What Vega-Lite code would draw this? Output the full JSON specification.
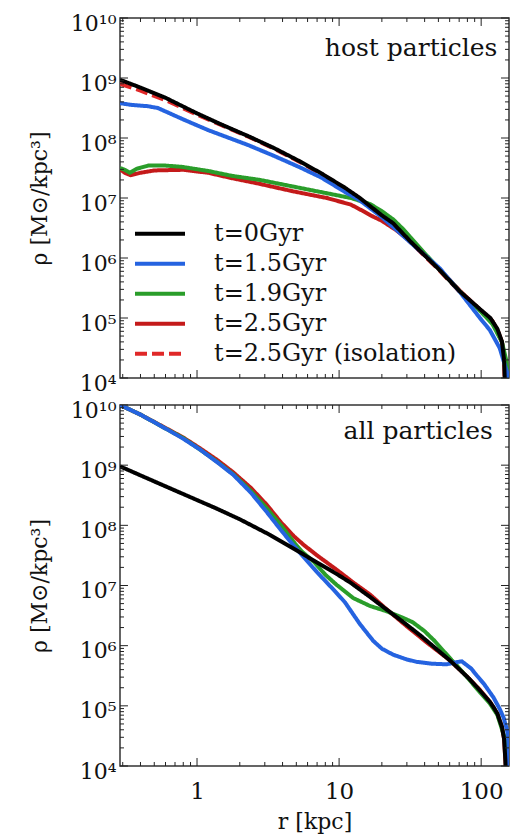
{
"$schema": "https://vega.github.io/schema/vega-lite/v6.json",
"padding": {"left": 27, "top": 11, "right": 5, "bottom": 5},
"bounds": "flush",
"spacing": 27,
"config": {
  "view": {"stroke": "#333", "strokeWidth": 1.5},
  "font": "DejaVu Serif",
  "axis": {"domain": false, "ticks": false, "tickSize": 0, "grid": false, "labelFont": "DejaVu Serif", "labelFontSize": 22, "labelColor": "#111", "titleFont": "DejaVu Serif", "titleFontSize": 22, "titleFontWeight": "normal", "titleColor": "#111"},
  "rule": {"color": "#222", "strokeWidth": 1}
},
"resolve": {"legend": {"color": "independent", "strokeDash": "independent"}},
"datasets": {
  "xt": [{"v":0.3,"k":"minor"},{"v":0.4,"k":"minor"},{"v":0.5,"k":"minor"},{"v":0.6,"k":"minor"},{"v":0.7,"k":"minor"},{"v":0.8,"k":"minor"},{"v":0.9,"k":"minor"},{"v":1,"k":"major"},{"v":2,"k":"minor"},{"v":3,"k":"minor"},{"v":4,"k":"minor"},{"v":5,"k":"minor"},{"v":6,"k":"minor"},{"v":7,"k":"minor"},{"v":8,"k":"minor"},{"v":9,"k":"minor"},{"v":10,"k":"major"},{"v":20,"k":"minor"},{"v":30,"k":"minor"},{"v":40,"k":"minor"},{"v":50,"k":"minor"},{"v":60,"k":"minor"},{"v":70,"k":"minor"},{"v":80,"k":"minor"},{"v":90,"k":"minor"},{"v":100,"k":"major"}],
  "yt": [{"v":1e4,"k":"major"},{"v":2e4,"k":"minor"},{"v":3e4,"k":"minor"},{"v":4e4,"k":"minor"},{"v":5e4,"k":"minor"},{"v":6e4,"k":"minor"},{"v":7e4,"k":"minor"},{"v":8e4,"k":"minor"},{"v":9e4,"k":"minor"},{"v":1e5,"k":"major"},{"v":2e5,"k":"minor"},{"v":3e5,"k":"minor"},{"v":4e5,"k":"minor"},{"v":5e5,"k":"minor"},{"v":6e5,"k":"minor"},{"v":7e5,"k":"minor"},{"v":8e5,"k":"minor"},{"v":9e5,"k":"minor"},{"v":1e6,"k":"major"},{"v":2e6,"k":"minor"},{"v":3e6,"k":"minor"},{"v":4e6,"k":"minor"},{"v":5e6,"k":"minor"},{"v":6e6,"k":"minor"},{"v":7e6,"k":"minor"},{"v":8e6,"k":"minor"},{"v":9e6,"k":"minor"},{"v":1e7,"k":"major"},{"v":2e7,"k":"minor"},{"v":3e7,"k":"minor"},{"v":4e7,"k":"minor"},{"v":5e7,"k":"minor"},{"v":6e7,"k":"minor"},{"v":7e7,"k":"minor"},{"v":8e7,"k":"minor"},{"v":9e7,"k":"minor"},{"v":1e8,"k":"major"},{"v":2e8,"k":"minor"},{"v":3e8,"k":"minor"},{"v":4e8,"k":"minor"},{"v":5e8,"k":"minor"},{"v":6e8,"k":"minor"},{"v":7e8,"k":"minor"},{"v":8e8,"k":"minor"},{"v":9e8,"k":"minor"},{"v":1e9,"k":"major"},{"v":2e9,"k":"minor"},{"v":3e9,"k":"minor"},{"v":4e9,"k":"minor"},{"v":5e9,"k":"minor"},{"v":6e9,"k":"minor"},{"v":7e9,"k":"minor"},{"v":8e9,"k":"minor"},{"v":9e9,"k":"minor"},{"v":1e10,"k":"major"}],
  "host": [
    {"s":"t=2.5Gyr (isolation)","r":0.287,"rho":7.94e8},{"s":"t=2.5Gyr (isolation)","r":0.4,"rho":6.17e8},{"s":"t=2.5Gyr (isolation)","r":0.6,"rho":4.27e8},{"s":"t=2.5Gyr (isolation)","r":1.0,"rho":2.45e8},{"s":"t=2.5Gyr (isolation)","r":1.5,"rho":1.62e8},{"s":"t=2.5Gyr (isolation)","r":2.3,"rho":1.05e8},{"s":"t=2.5Gyr (isolation)","r":3.5,"rho":6.61e7},{"s":"t=2.5Gyr (isolation)","r":5.2,"rho":4.07e7},{"s":"t=2.5Gyr (isolation)","r":7.5,"rho":2.51e7},{"s":"t=2.5Gyr (isolation)","r":11,"rho":1.45e7},{"s":"t=2.5Gyr (isolation)","r":14,"rho":9.77e6},{"s":"t=2.5Gyr (isolation)","r":20,"rho":5.01e6},{"s":"t=2.5Gyr (isolation)","r":24,"rho":3.72e6},{"s":"t=2.5Gyr (isolation)","r":31.6,"rho":1.86e6},{"s":"t=2.5Gyr (isolation)","r":50,"rho":6.46e5},{"s":"t=2.5Gyr (isolation)","r":71,"rho":2.69e5},{"s":"t=2.5Gyr (isolation)","r":100,"rho":1.32e5},{"s":"t=2.5Gyr (isolation)","r":116,"rho":9.77e4},{"s":"t=2.5Gyr (isolation)","r":130,"rho":6.46e4},{"s":"t=2.5Gyr (isolation)","r":140,"rho":3.98e4},{"s":"t=2.5Gyr (isolation)","r":145,"rho":2.0e4},{"s":"t=2.5Gyr (isolation)","r":147,"rho":6.31e3},
    {"s":"t=2.5Gyr","r":0.287,"rho":3.02e7},{"s":"t=2.5Gyr","r":0.31,"rho":2.63e7},{"s":"t=2.5Gyr","r":0.34,"rho":2.40e7},{"s":"t=2.5Gyr","r":0.4,"rho":2.63e7},{"s":"t=2.5Gyr","r":0.5,"rho":2.88e7},{"s":"t=2.5Gyr","r":0.8,"rho":2.95e7},{"s":"t=2.5Gyr","r":1.2,"rho":2.63e7},{"s":"t=2.5Gyr","r":1.76,"rho":2.14e7},{"s":"t=2.5Gyr","r":2.7,"rho":1.74e7},{"s":"t=2.5Gyr","r":4.76,"rho":1.29e7},{"s":"t=2.5Gyr","r":8.2,"rho":1.0e7},{"s":"t=2.5Gyr","r":12.1,"rho":7.76e6},{"s":"t=2.5Gyr","r":14.8,"rho":6.03e6},{"s":"t=2.5Gyr","r":17,"rho":5.01e6},{"s":"t=2.5Gyr","r":20,"rho":4.17e6},{"s":"t=2.5Gyr","r":25,"rho":2.95e6},{"s":"t=2.5Gyr","r":31.6,"rho":1.91e6},{"s":"t=2.5Gyr","r":50,"rho":6.76e5},{"s":"t=2.5Gyr","r":71,"rho":2.82e5},{"s":"t=2.5Gyr","r":100,"rho":1.32e5},{"s":"t=2.5Gyr","r":120,"rho":8.91e4},{"s":"t=2.5Gyr","r":140,"rho":3.98e4},{"s":"t=2.5Gyr","r":150,"rho":1.58e4},{"s":"t=2.5Gyr","r":155,"rho":7.94e3},
    {"s":"t=1.9Gyr","r":0.287,"rho":3.16e7},{"s":"t=1.9Gyr","r":0.31,"rho":2.95e7},{"s":"t=1.9Gyr","r":0.336,"rho":2.63e7},{"s":"t=1.9Gyr","r":0.38,"rho":3.09e7},{"s":"t=1.9Gyr","r":0.454,"rho":3.47e7},{"s":"t=1.9Gyr","r":0.6,"rho":3.47e7},{"s":"t=1.9Gyr","r":0.78,"rho":3.31e7},{"s":"t=1.9Gyr","r":1.2,"rho":2.82e7},{"s":"t=1.9Gyr","r":1.76,"rho":2.34e7},{"s":"t=1.9Gyr","r":2.78,"rho":2.0e7},{"s":"t=1.9Gyr","r":4.76,"rho":1.55e7},{"s":"t=1.9Gyr","r":8.2,"rho":1.20e7},{"s":"t=1.9Gyr","r":12.1,"rho":1.0e7},{"s":"t=1.9Gyr","r":16.5,"rho":7.94e6},{"s":"t=1.9Gyr","r":20,"rho":6.03e6},{"s":"t=1.9Gyr","r":24.1,"rho":4.37e6},{"s":"t=1.9Gyr","r":28,"rho":3.09e6},{"s":"t=1.9Gyr","r":31.6,"rho":2.24e6},{"s":"t=1.9Gyr","r":40,"rho":1.20e6},{"s":"t=1.9Gyr","r":51,"rho":6.46e5},{"s":"t=1.9Gyr","r":71,"rho":2.75e5},{"s":"t=1.9Gyr","r":100,"rho":1.26e5},{"s":"t=1.9Gyr","r":120,"rho":7.94e4},{"s":"t=1.9Gyr","r":140,"rho":3.98e4},{"s":"t=1.9Gyr","r":150,"rho":2.0e4},{"s":"t=1.9Gyr","r":155,"rho":1.0e4},{"s":"t=1.9Gyr","r":157,"rho":6.31e3},
    {"s":"t=1.5Gyr","r":0.287,"rho":3.80e8},{"s":"t=1.5Gyr","r":0.35,"rho":3.55e8},{"s":"t=1.5Gyr","r":0.45,"rho":3.39e8},{"s":"t=1.5Gyr","r":0.53,"rho":3.16e8},{"s":"t=1.5Gyr","r":0.8,"rho":2.04e8},{"s":"t=1.5Gyr","r":1.2,"rho":1.35e8},{"s":"t=1.5Gyr","r":2.3,"rho":7.59e7},{"s":"t=1.5Gyr","r":3.5,"rho":5.01e7},{"s":"t=1.5Gyr","r":5.3,"rho":3.24e7},{"s":"t=1.5Gyr","r":7.5,"rho":2.19e7},{"s":"t=1.5Gyr","r":11,"rho":1.26e7},{"s":"t=1.5Gyr","r":14,"rho":9.12e6},{"s":"t=1.5Gyr","r":20,"rho":4.79e6},{"s":"t=1.5Gyr","r":27,"rho":2.57e6},{"s":"t=1.5Gyr","r":35,"rho":1.48e6},{"s":"t=1.5Gyr","r":51,"rho":6.76e5},{"s":"t=1.5Gyr","r":71,"rho":2.69e5},{"s":"t=1.5Gyr","r":98,"rho":1.0e5},{"s":"t=1.5Gyr","r":115,"rho":6.31e4},{"s":"t=1.5Gyr","r":135,"rho":3.16e4},{"s":"t=1.5Gyr","r":152,"rho":1.26e4},{"s":"t=1.5Gyr","r":157,"rho":6.31e3},
    {"s":"t=0Gyr","r":0.287,"rho":9.33e8},{"s":"t=0Gyr","r":0.4,"rho":6.92e8},{"s":"t=0Gyr","r":0.6,"rho":4.68e8},{"s":"t=0Gyr","r":1.0,"rho":2.57e8},{"s":"t=0Gyr","r":1.5,"rho":1.66e8},{"s":"t=0Gyr","r":2.3,"rho":1.07e8},{"s":"t=0Gyr","r":3.5,"rho":6.76e7},{"s":"t=0Gyr","r":5.2,"rho":4.17e7},{"s":"t=0Gyr","r":7.5,"rho":2.57e7},{"s":"t=0Gyr","r":11,"rho":1.48e7},{"s":"t=0Gyr","r":14,"rho":1.0e7},{"s":"t=0Gyr","r":20,"rho":5.13e6},{"s":"t=0Gyr","r":24,"rho":3.80e6},{"s":"t=0Gyr","r":31.6,"rho":1.91e6},{"s":"t=0Gyr","r":50,"rho":6.61e5},{"s":"t=0Gyr","r":71,"rho":2.75e5},{"s":"t=0Gyr","r":100,"rho":1.35e5},{"s":"t=0Gyr","r":116,"rho":1.0e5},{"s":"t=0Gyr","r":130,"rho":6.61e4},{"s":"t=0Gyr","r":140,"rho":4.07e4},{"s":"t=0Gyr","r":145,"rho":2.0e4},{"s":"t=0Gyr","r":146.5,"rho":1.0e4},{"s":"t=0Gyr","r":147,"rho":6.31e3}
  ],
  "all": [
    {"s":"t=2.5Gyr","r":0.287,"rho":1.0e10},{"s":"t=2.5Gyr","r":0.4,"rho":6.92e9},{"s":"t=2.5Gyr","r":0.61,"rho":4.07e9},{"s":"t=2.5Gyr","r":0.8,"rho":2.88e9},{"s":"t=2.5Gyr","r":1.05,"rho":1.91e9},{"s":"t=2.5Gyr","r":1.4,"rho":1.20e9},{"s":"t=2.5Gyr","r":1.8,"rho":7.59e8},{"s":"t=2.5Gyr","r":2.4,"rho":4.17e8},{"s":"t=2.5Gyr","r":3.1,"rho":2.19e8},{"s":"t=2.5Gyr","r":3.9,"rho":1.12e8},{"s":"t=2.5Gyr","r":4.8,"rho":6.61e7},{"s":"t=2.5Gyr","r":5.6,"rho":4.79e7},{"s":"t=2.5Gyr","r":7,"rho":3.16e7},{"s":"t=2.5Gyr","r":8,"rho":2.51e7},{"s":"t=2.5Gyr","r":9.63,"rho":1.82e7},{"s":"t=2.5Gyr","r":12.6,"rho":1.12e7},{"s":"t=2.5Gyr","r":16.5,"rho":7.08e6},{"s":"t=2.5Gyr","r":20.5,"rho":4.47e6},{"s":"t=2.5Gyr","r":30,"rho":2.09e6},{"s":"t=2.5Gyr","r":42,"rho":1.10e6},{"s":"t=2.5Gyr","r":60,"rho":5.75e5},{"s":"t=2.5Gyr","r":80,"rho":3.02e5},{"s":"t=2.5Gyr","r":98.5,"rho":1.82e5},{"s":"t=2.5Gyr","r":115,"rho":1.17e5},{"s":"t=2.5Gyr","r":130,"rho":7.41e4},{"s":"t=2.5Gyr","r":140,"rho":4.47e4},{"s":"t=2.5Gyr","r":145,"rho":2.82e4},{"s":"t=2.5Gyr","r":148,"rho":1.26e4},{"s":"t=2.5Gyr","r":150,"rho":7.94e3},
    {"s":"t=1.9Gyr","r":0.287,"rho":1.0e10},{"s":"t=1.9Gyr","r":0.4,"rho":6.92e9},{"s":"t=1.9Gyr","r":0.61,"rho":3.98e9},{"s":"t=1.9Gyr","r":0.8,"rho":2.82e9},{"s":"t=1.9Gyr","r":1.05,"rho":1.82e9},{"s":"t=1.9Gyr","r":1.4,"rho":1.12e9},{"s":"t=1.9Gyr","r":1.8,"rho":7.08e8},{"s":"t=1.9Gyr","r":2.4,"rho":3.72e8},{"s":"t=1.9Gyr","r":3.1,"rho":1.91e8},{"s":"t=1.9Gyr","r":3.9,"rho":1.0e8},{"s":"t=1.9Gyr","r":4.8,"rho":5.25e7},{"s":"t=1.9Gyr","r":5.5,"rho":3.63e7},{"s":"t=1.9Gyr","r":6.6,"rho":2.51e7},{"s":"t=1.9Gyr","r":8,"rho":1.51e7},{"s":"t=1.9Gyr","r":9.63,"rho":1.02e7},{"s":"t=1.9Gyr","r":12.6,"rho":6.17e6},{"s":"t=1.9Gyr","r":16.5,"rho":4.57e6},{"s":"t=1.9Gyr","r":21.7,"rho":3.72e6},{"s":"t=1.9Gyr","r":28.4,"rho":2.88e6},{"s":"t=1.9Gyr","r":33,"rho":2.45e6},{"s":"t=1.9Gyr","r":40,"rho":1.74e6},{"s":"t=1.9Gyr","r":47,"rho":1.20e6},{"s":"t=1.9Gyr","r":54.4,"rho":8.13e5},{"s":"t=1.9Gyr","r":62,"rho":5.75e5},{"s":"t=1.9Gyr","r":68,"rho":4.57e5},{"s":"t=1.9Gyr","r":80,"rho":2.95e5},{"s":"t=1.9Gyr","r":98.5,"rho":1.66e5},{"s":"t=1.9Gyr","r":115,"rho":1.10e5},{"s":"t=1.9Gyr","r":130,"rho":7.08e4},{"s":"t=1.9Gyr","r":145,"rho":3.16e4},{"s":"t=1.9Gyr","r":151,"rho":2.0e4},{"s":"t=1.9Gyr","r":155,"rho":7.94e3},
    {"s":"t=1.5Gyr","r":0.287,"rho":1.0e10},{"s":"t=1.5Gyr","r":0.4,"rho":6.92e9},{"s":"t=1.5Gyr","r":0.61,"rho":3.98e9},{"s":"t=1.5Gyr","r":0.8,"rho":2.75e9},{"s":"t=1.5Gyr","r":1.05,"rho":1.82e9},{"s":"t=1.5Gyr","r":1.4,"rho":1.10e9},{"s":"t=1.5Gyr","r":1.8,"rho":6.92e8},{"s":"t=1.5Gyr","r":2.4,"rho":3.47e8},{"s":"t=1.5Gyr","r":3.1,"rho":1.66e8},{"s":"t=1.5Gyr","r":3.9,"rho":8.32e7},{"s":"t=1.5Gyr","r":4.8,"rho":4.57e7},{"s":"t=1.5Gyr","r":5.5,"rho":3.16e7},{"s":"t=1.5Gyr","r":7,"rho":1.66e7},{"s":"t=1.5Gyr","r":9.4,"rho":7.94e6},{"s":"t=1.5Gyr","r":11,"rho":5.25e6},{"s":"t=1.5Gyr","r":14,"rho":2.29e6},{"s":"t=1.5Gyr","r":17.4,"rho":1.20e6},{"s":"t=1.5Gyr","r":20,"rho":8.91e5},{"s":"t=1.5Gyr","r":24,"rho":7.08e5},{"s":"t=1.5Gyr","r":30,"rho":5.89e5},{"s":"t=1.5Gyr","r":35.4,"rho":5.37e5},{"s":"t=1.5Gyr","r":45,"rho":5.01e5},{"s":"t=1.5Gyr","r":57.4,"rho":4.90e5},{"s":"t=1.5Gyr","r":65,"rho":5.25e5},{"s":"t=1.5Gyr","r":73,"rho":5.50e5},{"s":"t=1.5Gyr","r":85,"rho":4.17e5},{"s":"t=1.5Gyr","r":93.5,"rho":3.16e5},{"s":"t=1.5Gyr","r":105,"rho":2.29e5},{"s":"t=1.5Gyr","r":122,"rho":1.38e5},{"s":"t=1.5Gyr","r":135,"rho":8.91e4},{"s":"t=1.5Gyr","r":144,"rho":6.31e4},{"s":"t=1.5Gyr","r":152,"rho":3.98e4},{"s":"t=1.5Gyr","r":155,"rho":2.95e4},{"s":"t=1.5Gyr","r":157,"rho":1.0e4},
    {"s":"t=0Gyr","r":0.287,"rho":9.55e8},{"s":"t=0Gyr","r":0.5,"rho":5.37e8},{"s":"t=0Gyr","r":1.0,"rho":2.63e8},{"s":"t=0Gyr","r":1.34,"rho":1.95e8},{"s":"t=0Gyr","r":2,"rho":1.26e8},{"s":"t=0Gyr","r":3.27,"rho":6.92e7},{"s":"t=0Gyr","r":4.9,"rho":3.98e7},{"s":"t=0Gyr","r":7,"rho":2.40e7},{"s":"t=0Gyr","r":9.63,"rho":1.55e7},{"s":"t=0Gyr","r":12,"rho":1.12e7},{"s":"t=0Gyr","r":16.5,"rho":6.46e6},{"s":"t=0Gyr","r":20.5,"rho":4.37e6},{"s":"t=0Gyr","r":28.4,"rho":2.45e6},{"s":"t=0Gyr","r":37.3,"rho":1.48e6},{"s":"t=0Gyr","r":45,"rho":1.02e6},{"s":"t=0Gyr","r":60.6,"rho":5.62e5},{"s":"t=0Gyr","r":80,"rho":3.02e5},{"s":"t=0Gyr","r":93.5,"rho":2.04e5},{"s":"t=0Gyr","r":115,"rho":1.17e5},{"s":"t=0Gyr","r":122,"rho":9.55e4},{"s":"t=0Gyr","r":130,"rho":7.41e4},{"s":"t=0Gyr","r":140,"rho":4.47e4},{"s":"t=0Gyr","r":145,"rho":2.82e4},{"s":"t=0Gyr","r":148,"rho":1.26e4},{"s":"t=0Gyr","r":149,"rho":7.94e3}
  ],
  "hostnote": [{"label":"host particles","r":130,"rho":2.3e9}],
  "allnote": [{"label":"all particles","r":121,"rho":2.7e9}]
},
"vconcat": [
  {
    "width": 389, "height": 360,
    "resolve": {"axis": {"x": "independent", "y": "independent"}},
    "layer": [
      {
        "data": {"name": "host"},
        "mark": {"type": "line", "strokeWidth": 4, "clip": true},
        "encoding": {
          "x": {"field": "r", "type": "quantitative", "scale": {"type": "log", "domain": [0.287, 157], "nice": false}, "axis": {"orient": "bottom", "values": [1, 10, 100], "labels": false, "title": null}},
          "y": {"field": "rho", "type": "quantitative", "scale": {"type": "log", "domain": [10000, 10000000000], "nice": false}, "axis": {"orient": "left", "values": [10000, 100000, 1000000, 10000000, 100000000, 1000000000, 10000000000], "labelPadding": 4, "labelOffset": 5, "labelExpr": "'10' + ['⁰','¹','²','³','⁴','⁵','⁶','⁷','⁸','⁹','¹⁰'][round(log(datum.value)/LN10)]", "title": "ρ [M⊙/kpc³]", "titlePadding": 19}},
          "color": {"field": "s", "type": "nominal", "scale": {"domain": ["t=0Gyr", "t=1.5Gyr", "t=1.9Gyr", "t=2.5Gyr", "t=2.5Gyr (isolation)"], "range": ["#000000", "#2563e0", "#2a9d2a", "#c41a1a", "#e02828"]}, "legend": {"orient": "none", "legendX": 13, "legendY": 201, "title": null, "symbolType": "stroke", "symbolSize": 2500, "symbolStrokeWidth": 4, "clipHeight": 29.5, "rowPadding": 0, "labelFont": "DejaVu Serif", "labelFontSize": 24, "labelColor": "#111", "labelOffset": 27, "labelLimit": 0, "padding": 0}},
          "strokeDash": {"field": "s", "type": "nominal", "scale": {"domain": ["t=0Gyr", "t=1.5Gyr", "t=1.9Gyr", "t=2.5Gyr", "t=2.5Gyr (isolation)"], "range": [[1, 0], [1, 0], [1, 0], [1, 0], [12, 5]]}, "legend": {"orient": "none", "legendX": 13, "legendY": 201, "title": null, "symbolType": "stroke", "symbolSize": 2500, "symbolStrokeWidth": 4, "clipHeight": 29.5, "rowPadding": 0, "labelFont": "DejaVu Serif", "labelFontSize": 24, "labelColor": "#111", "labelOffset": 27, "labelLimit": 0, "padding": 0}}
        }
      },
      {"data": {"name": "xt"}, "transform": [{"filter": "datum.k == 'major'"}], "mark": "rule", "encoding": {"x": {"field": "v", "type": "quantitative", "scale": {"type": "log", "domain": [0.287, 157], "nice": false}, "axis": null}, "y": {"datum": 10000, "scale": {"type": "log", "domain": [10000, 10000000000], "nice": false}, "axis": null}, "y2": {"datum": 13590}}},
      {"data": {"name": "xt"}, "transform": [{"filter": "datum.k == 'minor'"}], "mark": "rule", "encoding": {"x": {"field": "v", "type": "quantitative", "scale": {"type": "log", "domain": [0.287, 157], "nice": false}, "axis": null}, "y": {"datum": 10000, "scale": {"type": "log", "domain": [10000, 10000000000], "nice": false}, "axis": null}, "y2": {"datum": 11660}}},
      {"data": {"name": "xt"}, "transform": [{"filter": "datum.k == 'major'"}], "mark": "rule", "encoding": {"x": {"field": "v", "type": "quantitative", "scale": {"type": "log", "domain": [0.287, 157], "nice": false}, "axis": null}, "y": {"datum": 10000000000, "scale": {"type": "log", "domain": [10000, 10000000000], "nice": false}, "axis": null}, "y2": {"datum": 7360000000}}},
      {"data": {"name": "xt"}, "transform": [{"filter": "datum.k == 'minor'"}], "mark": "rule", "encoding": {"x": {"field": "v", "type": "quantitative", "scale": {"type": "log", "domain": [0.287, 157], "nice": false}, "axis": null}, "y": {"datum": 10000000000, "scale": {"type": "log", "domain": [10000, 10000000000], "nice": false}, "axis": null}, "y2": {"datum": 8580000000}}},
      {"data": {"name": "yt"}, "transform": [{"filter": "datum.k == 'major'"}], "mark": "rule", "encoding": {"y": {"field": "v", "type": "quantitative", "scale": {"type": "log", "domain": [10000, 10000000000], "nice": false}, "axis": null}, "x": {"datum": 0.287, "scale": {"type": "log", "domain": [0.287, 157], "nice": false}, "axis": null}, "x2": {"datum": 0.3267}}},
      {"data": {"name": "yt"}, "transform": [{"filter": "datum.k == 'minor'"}], "mark": "rule", "encoding": {"y": {"field": "v", "type": "quantitative", "scale": {"type": "log", "domain": [10000, 10000000000], "nice": false}, "axis": null}, "x": {"datum": 0.287, "scale": {"type": "log", "domain": [0.287, 157], "nice": false}, "axis": null}, "x2": {"datum": 0.3062}}},
      {"data": {"name": "yt"}, "transform": [{"filter": "datum.k == 'major'"}], "mark": "rule", "encoding": {"y": {"field": "v", "type": "quantitative", "scale": {"type": "log", "domain": [10000, 10000000000], "nice": false}, "axis": null}, "x": {"datum": 157, "scale": {"type": "log", "domain": [0.287, 157], "nice": false}, "axis": null}, "x2": {"datum": 137.9}}},
      {"data": {"name": "yt"}, "transform": [{"filter": "datum.k == 'minor'"}], "mark": "rule", "encoding": {"y": {"field": "v", "type": "quantitative", "scale": {"type": "log", "domain": [10000, 10000000000], "nice": false}, "axis": null}, "x": {"datum": 157, "scale": {"type": "log", "domain": [0.287, 157], "nice": false}, "axis": null}, "x2": {"datum": 147.2}}},
      {
        "data": {"name": "hostnote"},
        "mark": {"type": "text", "align": "right", "baseline": "alphabetic", "font": "DejaVu Serif", "fontSize": 25, "color": "#111"},
        "encoding": {
          "x": {"field": "r", "type": "quantitative", "scale": {"type": "log", "domain": [0.287, 157], "nice": false}, "axis": null},
          "y": {"field": "rho", "type": "quantitative", "scale": {"type": "log", "domain": [10000, 10000000000], "nice": false}, "axis": null},
          "text": {"field": "label"}
        }
      }
    ]
  },
  {
    "width": 389, "height": 361,
    "resolve": {"axis": {"x": "independent", "y": "independent"}},
    "layer": [
      {
        "data": {"name": "all"},
        "mark": {"type": "line", "strokeWidth": 4, "clip": true},
        "encoding": {
          "x": {"field": "r", "type": "quantitative", "scale": {"type": "log", "domain": [0.287, 157], "nice": false}, "axis": {"orient": "bottom", "values": [1, 10, 100], "format": "d", "labelPadding": 14, "labelFontSize": 23, "title": "r [kpc]", "titlePadding": 8}},
          "y": {"field": "rho", "type": "quantitative", "scale": {"type": "log", "domain": [10000, 10000000000], "nice": false}, "axis": {"orient": "left", "values": [10000, 100000, 1000000, 10000000, 100000000, 1000000000, 10000000000], "labelPadding": 4, "labelOffset": 5, "labelExpr": "'10' + ['⁰','¹','²','³','⁴','⁵','⁶','⁷','⁸','⁹','¹⁰'][round(log(datum.value)/LN10)]", "title": "ρ [M⊙/kpc³]", "titlePadding": 19}},
          "color": {"field": "s", "type": "nominal", "scale": {"domain": ["t=0Gyr", "t=1.5Gyr", "t=1.9Gyr", "t=2.5Gyr", "t=2.5Gyr (isolation)"], "range": ["#000000", "#2563e0", "#2a9d2a", "#c41a1a", "#e02828"]}, "legend": null},
          "strokeDash": {"field": "s", "type": "nominal", "scale": {"domain": ["t=0Gyr", "t=1.5Gyr", "t=1.9Gyr", "t=2.5Gyr", "t=2.5Gyr (isolation)"], "range": [[1, 0], [1, 0], [1, 0], [1, 0], [12, 5]]}, "legend": null}
        }
      },
      {"data": {"name": "xt"}, "transform": [{"filter": "datum.k == 'major'"}], "mark": "rule", "encoding": {"x": {"field": "v", "type": "quantitative", "scale": {"type": "log", "domain": [0.287, 157], "nice": false}, "axis": null}, "y": {"datum": 10000, "scale": {"type": "log", "domain": [10000, 10000000000], "nice": false}, "axis": null}, "y2": {"datum": 13590}}},
      {"data": {"name": "xt"}, "transform": [{"filter": "datum.k == 'minor'"}], "mark": "rule", "encoding": {"x": {"field": "v", "type": "quantitative", "scale": {"type": "log", "domain": [0.287, 157], "nice": false}, "axis": null}, "y": {"datum": 10000, "scale": {"type": "log", "domain": [10000, 10000000000], "nice": false}, "axis": null}, "y2": {"datum": 11660}}},
      {"data": {"name": "xt"}, "transform": [{"filter": "datum.k == 'major'"}], "mark": "rule", "encoding": {"x": {"field": "v", "type": "quantitative", "scale": {"type": "log", "domain": [0.287, 157], "nice": false}, "axis": null}, "y": {"datum": 10000000000, "scale": {"type": "log", "domain": [10000, 10000000000], "nice": false}, "axis": null}, "y2": {"datum": 7360000000}}},
      {"data": {"name": "xt"}, "transform": [{"filter": "datum.k == 'minor'"}], "mark": "rule", "encoding": {"x": {"field": "v", "type": "quantitative", "scale": {"type": "log", "domain": [0.287, 157], "nice": false}, "axis": null}, "y": {"datum": 10000000000, "scale": {"type": "log", "domain": [10000, 10000000000], "nice": false}, "axis": null}, "y2": {"datum": 8580000000}}},
      {"data": {"name": "yt"}, "transform": [{"filter": "datum.k == 'major'"}], "mark": "rule", "encoding": {"y": {"field": "v", "type": "quantitative", "scale": {"type": "log", "domain": [10000, 10000000000], "nice": false}, "axis": null}, "x": {"datum": 0.287, "scale": {"type": "log", "domain": [0.287, 157], "nice": false}, "axis": null}, "x2": {"datum": 0.3267}}},
      {"data": {"name": "yt"}, "transform": [{"filter": "datum.k == 'minor'"}], "mark": "rule", "encoding": {"y": {"field": "v", "type": "quantitative", "scale": {"type": "log", "domain": [10000, 10000000000], "nice": false}, "axis": null}, "x": {"datum": 0.287, "scale": {"type": "log", "domain": [0.287, 157], "nice": false}, "axis": null}, "x2": {"datum": 0.3062}}},
      {"data": {"name": "yt"}, "transform": [{"filter": "datum.k == 'major'"}], "mark": "rule", "encoding": {"y": {"field": "v", "type": "quantitative", "scale": {"type": "log", "domain": [10000, 10000000000], "nice": false}, "axis": null}, "x": {"datum": 157, "scale": {"type": "log", "domain": [0.287, 157], "nice": false}, "axis": null}, "x2": {"datum": 137.9}}},
      {"data": {"name": "yt"}, "transform": [{"filter": "datum.k == 'minor'"}], "mark": "rule", "encoding": {"y": {"field": "v", "type": "quantitative", "scale": {"type": "log", "domain": [10000, 10000000000], "nice": false}, "axis": null}, "x": {"datum": 157, "scale": {"type": "log", "domain": [0.287, 157], "nice": false}, "axis": null}, "x2": {"datum": 147.2}}},
      {
        "data": {"name": "allnote"},
        "mark": {"type": "text", "align": "right", "baseline": "alphabetic", "font": "DejaVu Serif", "fontSize": 25, "color": "#111"},
        "encoding": {
          "x": {"field": "r", "type": "quantitative", "scale": {"type": "log", "domain": [0.287, 157], "nice": false}, "axis": null},
          "y": {"field": "rho", "type": "quantitative", "scale": {"type": "log", "domain": [10000, 10000000000], "nice": false}, "axis": null},
          "text": {"field": "label"}
        }
      }
    ]
  }
]
}
